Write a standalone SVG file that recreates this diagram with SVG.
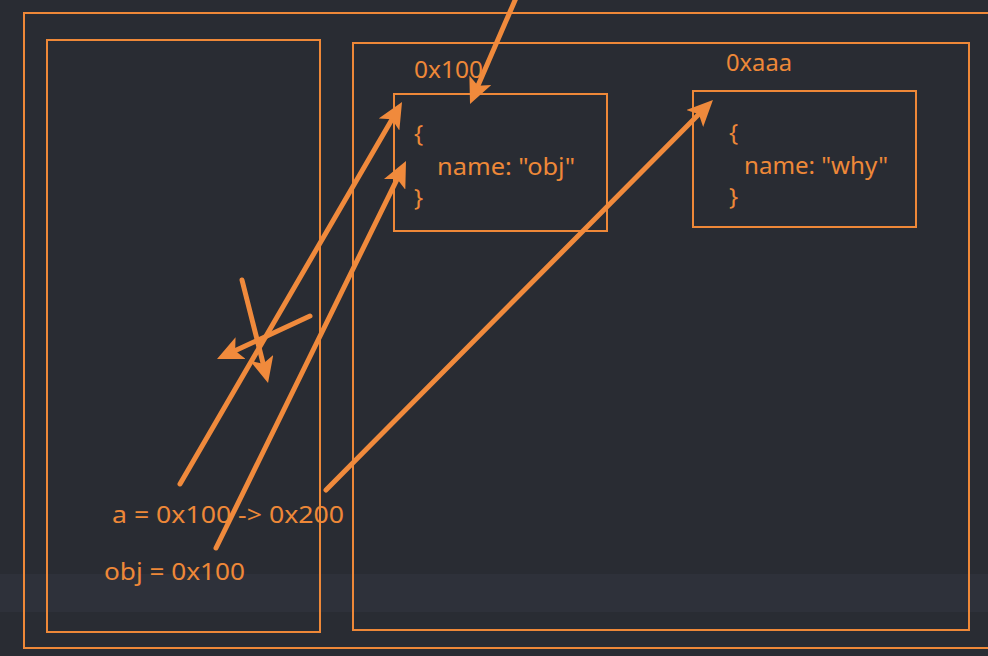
<svg xmlns="http://www.w3.org/2000/svg" width="988" height="656" viewBox="0 0 988 656">
<style>
.box{fill:none;stroke:#ee8838;stroke-width:2}
.t{font-family:"Noto Sans","Open Sans",sans-serif;fill:#ee8838;font-size:24px}
.c{stroke:#f08a3c;stroke-width:5;stroke-linecap:round;fill:none;marker-end:url(#ah)}
</style>
<defs>
<marker id="ah" viewBox="0 0 26 24" refX="14" refY="12" markerWidth="26" markerHeight="24" orient="auto" markerUnits="userSpaceOnUse">
<path d="M0,0 L26,12 L0,24 L6,12 Z" fill="#f08a3c"/>
</marker>
</defs>
<rect width="988" height="656" fill="#292c33"/>
<rect x="0" y="574" width="988" height="38" fill="#2e313a"/>
<g id="frame"><rect class="box" x="24" y="13" width="980" height="635"/></g>
<g id="stack"><rect class="box" x="47" y="40" width="273" height="592"/>
<text class="t" x="112" y="523" textLength="232" lengthAdjust="spacingAndGlyphs">a = 0x100 -&gt; 0x200</text>
<text class="t" x="104" y="580" textLength="141" lengthAdjust="spacingAndGlyphs">obj = 0x100</text>
</g>
<g id="heap"><rect class="box" x="353" y="43" width="616" height="587"/></g>
<g id="obj100">
<text class="t" x="414" y="78" textLength="69" lengthAdjust="spacingAndGlyphs">0x100</text>
<rect class="box" x="394" y="94" width="213" height="137"/>
<text class="t" x="414" y="142">{</text>
<text class="t" x="437" y="175" textLength="138" lengthAdjust="spacingAndGlyphs">name: "obj"</text>
<text class="t" x="414" y="206">}</text>
</g>
<g id="objaaa">
<text class="t" x="726" y="71" textLength="66" lengthAdjust="spacingAndGlyphs">0xaaa</text>
<rect class="box" x="693" y="91" width="223" height="136"/>
<text class="t" x="729" y="141">{</text>
<text class="t" x="744" y="174" textLength="144" lengthAdjust="spacingAndGlyphs">name: "why"</text>
<text class="t" x="729" y="205">}</text>
</g>
<g id="connectors">
<line class="c" x1="516" y1="-2" x2="474.8" y2="93"/>
<line class="c" x1="180" y1="484" x2="396" y2="112.4"/>
<line class="c" x1="216" y1="548" x2="400.7" y2="171.8"/>
<line class="c" x1="326" y1="490" x2="704.5" y2="108.5"/>
<line class="c" x1="242" y1="280" x2="265.1" y2="371.4"/>
<line class="c" x1="310" y1="316" x2="227.9" y2="354"/>
</g>
</svg>
